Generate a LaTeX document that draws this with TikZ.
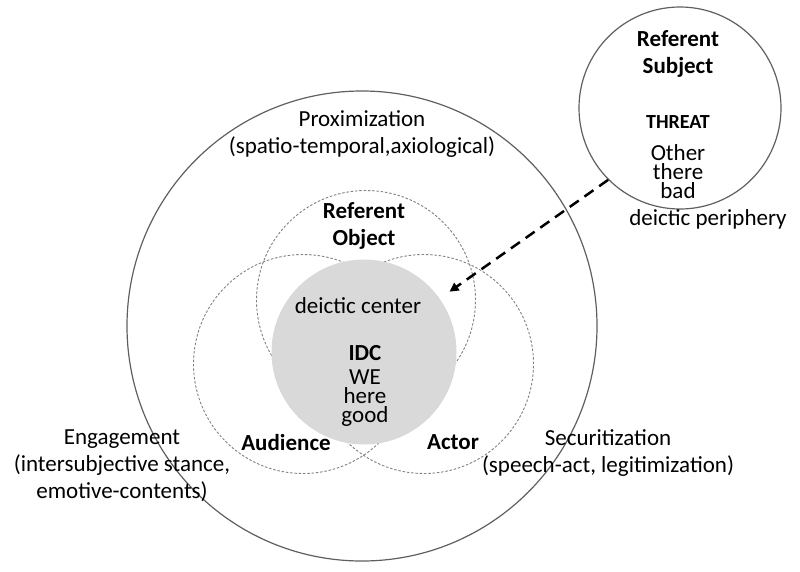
\documentclass[tikz,border=0pt]{standalone}
\usepackage{fontspec}
\setmainfont{Carlito}
\usetikzlibrary{positioning}
\usetikzlibrary{arrows.meta}
\usepackage{xcolor}
\definecolor{idcgray}{RGB}{217,217,217}
\definecolor{ringgray}{RGB}{95,95,95}

\tikzset{
  ring/.style={circle, draw=ringgray, line width=1.2pt, inner sep=0pt},
  dotring/.style={circle, draw=gray, line width=0.9pt, dash pattern=on 2.5pt off 1.8pt, inner sep=0pt},
  txt/.style={font=\fontsize{23}{27}\selectfont, align=center, inner sep=0pt},
  boldtxt/.style={txt, font=\fontsize{23}{27}\selectfont\bfseries},
  tighttxt/.style={font=\fontsize{23}{19}\selectfont, align=center, inner sep=0pt},
}

\begin{document}
\begin{tikzpicture}[x=1pt,y=-1pt]

\useasboundingbox (0,0) rectangle (800,571);

% rings
\node[ring, minimum size=470pt] (prox) at (362,326) {};
\node[ring, minimum size=202pt] (subject) at (680,108) {};

\node[dotring, minimum size=219pt] (object) at (366,300) {};
\node[dotring, minimum size=219pt] (audience) at (303,364) {};
\node[dotring, minimum size=219pt] (actor) at (424,364) {};

\node[circle, fill=idcgray, minimum size=185pt, inner sep=0pt] (idc) at (364,352) {};

% labels
\node[txt] (proxlbl) at (362,134) {Proximization\\(spatio-temporal,axiological)};

\node[boldtxt] (subjlbl) at (678,54) {Referent\\Subject};
\node[txt, font=\fontsize{20}{24}\selectfont\bfseries] (threat) at (678,122) {THREAT};
\node[tighttxt] (other) at (678,172) {Other\\there\\bad};
\node[txt] (periph) at (708,219) {deictic periphery};

\node[boldtxt] (objlbl) at (364,226) {Referent\\Object};
\node[txt] (dcenter) at (358,306) {deictic center};
\node[boldtxt] (idclbl) at (365,353) {IDC};
\node[tighttxt] (we) at (365,398) {WE\\here\\good};

\node[boldtxt] (audlbl) at (286,443) {Audience};
\node[boldtxt] (actlbl) at (453,442) {Actor};

\node[txt] (englbl) at (122,466) {Engagement\\(intersubjective stance,\\emotive-contents)};
\node[txt] (seclbl) at (608,453) {Securitization\\(speech-act, legitimization)};

% threat arrow
\draw[line width=2.5pt, dash pattern=on 11pt off 7pt, -{Triangle[length=9pt,width=9pt]}, shorten >=12pt] (subject.225) -- (idc);

\end{tikzpicture}
\end{document}
